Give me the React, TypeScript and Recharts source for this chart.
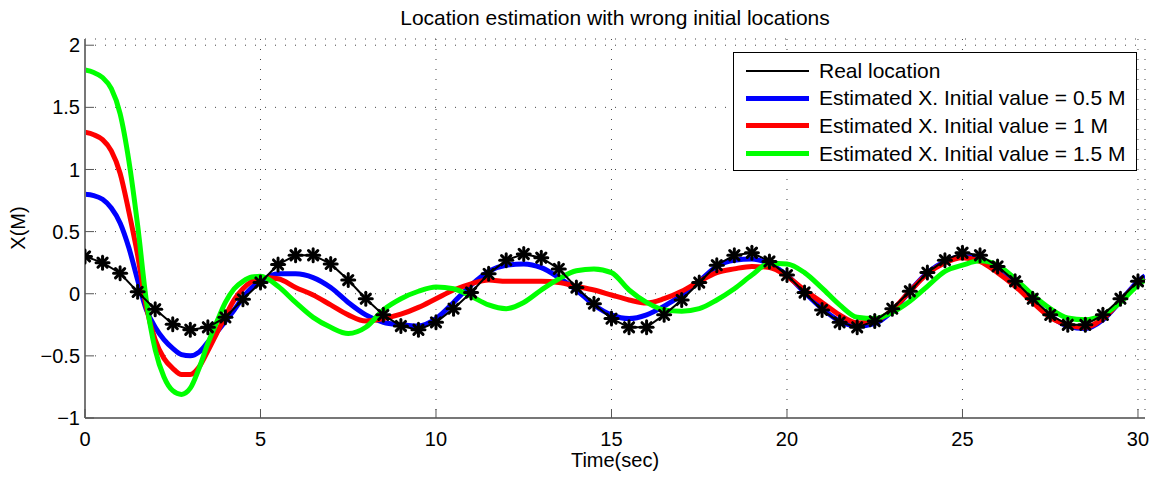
import React from 'react';
import { LineChart, Line, XAxis, YAxis, CartesianGrid, Legend } from 'recharts';

// time samples used for the three estimated curves (finer at the start where they move fast)
const estTime = [
    0, 0.25, 0.5, 0.75, 1, 1.25, 1.5, 1.75, 2, 2.25, 2.5, 2.75, 3, 3.25, 3.5, 3.75, 4, 4.25, 4.5, 4.75, 5,
    5.5, 6, 6.5, 7, 7.5, 8, 8.5, 9, 9.5, 10,
    10.5, 11, 11.5, 12, 12.5, 13, 13.5, 14, 14.5, 15,
    15.5, 16, 16.5, 17, 17.5, 18, 18.5, 19, 19.5, 20,
    20.5, 21, 21.5, 22, 22.5, 23, 23.5, 24, 24.5, 25,
    25.5, 26, 26.5, 27, 27.5, 28, 28.5, 29, 29.5, 30,
    30.2,
];

const estBlue = [
    0.80, 0.79, 0.76, 0.69, 0.57, 0.37, 0.11, -0.13, -0.27, -0.37, -0.44, -0.49, -0.50, -0.47, -0.39, -0.31, -0.22, -0.13, -0.03, 0.05, 0.10,
    0.16, 0.16, 0.13, 0.05, -0.07, -0.17, -0.23, -0.25, -0.26, -0.20,
    -0.07, 0.07, 0.18, 0.23, 0.24, 0.21, 0.13, 0.03, -0.09, -0.17,
    -0.20, -0.17, -0.10, -0.01, 0.10, 0.22, 0.27, 0.28, 0.24, 0.15,
    0.01, -0.12, -0.22, -0.26, -0.24, -0.14, 0.02, 0.17, 0.26, 0.30,
    0.27, 0.18, 0.07, -0.06, -0.18, -0.26, -0.28, -0.21, -0.06, 0.10,
    0.145,
];

const estRed = [
    1.30, 1.28, 1.24, 1.15, 0.97, 0.66, 0.31, -0.11, -0.37, -0.52, -0.60, -0.65, -0.65, -0.59, -0.46, -0.32, -0.18, -0.05, 0.04, 0.10, 0.13,
    0.12, 0.05, -0.01, -0.09, -0.17, -0.22, -0.20, -0.165, -0.11, -0.04,
    0.03, 0.08, 0.11, 0.10, 0.10, 0.10, 0.09, 0.06, 0.03, -0.01,
    -0.05, -0.075, -0.04, 0.02, 0.10, 0.17, 0.20, 0.22, 0.21, 0.14,
    0.03, -0.07, -0.17, -0.235, -0.22, -0.13, 0.02, 0.16, 0.25, 0.29,
    0.26, 0.17, 0.06, -0.07, -0.19, -0.25, -0.27, -0.20, -0.06, 0.08,
    0.11,
];

const estGreen = [
    1.80, 1.78, 1.74, 1.65, 1.45, 1.07, 0.55, -0.06, -0.45, -0.67, -0.78, -0.81, -0.76, -0.60, -0.40, -0.23, -0.07, 0.04, 0.10, 0.135, 0.14,
    0.06, -0.07, -0.19, -0.27, -0.32, -0.27, -0.13, -0.04, 0.02, 0.055,
    0.04, -0.02, -0.09, -0.12, -0.07, 0.03, 0.12, 0.185, 0.20, 0.17,
    0.03, -0.07, -0.13, -0.14, -0.12, -0.05, 0.04, 0.15, 0.245, 0.24,
    0.17, 0.045, -0.09, -0.19, -0.20, -0.15, -0.06, 0.06, 0.18, 0.23,
    0.265, 0.23, 0.12, -0.01, -0.12, -0.195, -0.21, -0.17, -0.07, 0.07,
    0.11,
];

// real location, sampled every 0.5 s (one marker per sample)
const realTime = [
    0, 0.5, 1, 1.5, 2, 2.5, 3, 3.5, 4, 4.5, 5, 5.5, 6, 6.5, 7, 7.5, 8, 8.5, 9, 9.5, 10,
    10.5, 11, 11.5, 12, 12.5, 13, 13.5, 14, 14.5, 15, 15.5, 16, 16.5, 17, 17.5, 18, 18.5, 19, 19.5, 20,
    20.5, 21, 21.5, 22, 22.5, 23, 23.5, 24, 24.5, 25, 25.5, 26, 26.5, 27, 27.5, 28, 28.5, 29, 29.5, 30,
];

const realX = [
    0.30, 0.25, 0.165, 0.015, -0.125, -0.245, -0.29, -0.27, -0.19, -0.045, 0.09, 0.235, 0.31, 0.31, 0.24, 0.11, -0.04, -0.17, -0.26, -0.29, -0.23,
    -0.12, 0.01, 0.16, 0.27, 0.32, 0.29, 0.20, 0.05, -0.08, -0.20, -0.27, -0.27, -0.17, -0.05, 0.09, 0.23, 0.31, 0.33, 0.26, 0.15,
    0.01, -0.13, -0.23, -0.27, -0.22, -0.12, 0.02, 0.17, 0.27, 0.33, 0.31, 0.22, 0.10, -0.04, -0.17, -0.25, -0.25, -0.17, -0.04, 0.10,
];

const xTicks = [0, 5, 10, 15, 20, 25, 30];
const yTicks = [-1, -0.5, 0, 0.5, 1, 1.5, 2];

const seriesNames = [
    'Real location',
    'Estimated X. Initial value = 0.5 M',
    'Estimated X. Initial value = 1 M',
    'Estimated X. Initial value = 1.5 M',
];
const seriesColors = ['#000000', '#0000ff', '#ff0000', '#00ff00'];

const FONT = '"Liberation Sans", Arial, Helvetica, sans-serif';

const fmt = (v: number) => String(v).replace('-', '\u2212');

const blueData = estTime.map((t, i) => ({ t, x: estBlue[i] }));
const redData = estTime.map((t, i) => ({ t, x: estRed[i] }));
const greenData = estTime.map((t, i) => ({ t, x: estGreen[i] }));
const realData = realTime.map((t, i) => ({ t, x: realX[i] }));

const XTick = (props: any) => {
    const { x, y, payload } = props;
    const axisY = y - 14;
    return (
        <g>
            <line x1={x} x2={x} y1={axisY} y2={axisY - 9} stroke="#555" strokeWidth={1} />
            <text x={x} y={y} dy="0.71em" textAnchor="middle" fontSize={20} fill="#000" fontFamily={FONT}>
                {fmt(payload.value)}
            </text>
        </g>
    );
};

const YTick = (props: any) => {
    const { x, y, payload } = props;
    const axisX = x + 5;
    return (
        <g>
            <line x1={axisX} x2={axisX + 9} y1={y} y2={y} stroke="#555" strokeWidth={1} />
            <text x={x} y={y} dy="0.355em" textAnchor="end" fontSize={20} fill="#000" fontFamily={FONT}>
                {fmt(payload.value)}
            </text>
        </g>
    );
};

// MATLAB-style '*' marker
const renderStar = (props: any) => {
    const { cx, cy, index } = props;
    if (cx == null || cy == null) return <g key={`s-${index}`} />;
    const r = 6.5;
    const d = 4.6;
    return (
        <g key={`s-${index}`} stroke="#000" strokeWidth={3} strokeLinecap="round">
            <line x1={cx - r} x2={cx + r} y1={cy} y2={cy} />
            <line x1={cx} x2={cx} y1={cy - r} y2={cy + r} />
            <line x1={cx - d} x2={cx + d} y1={cy - d} y2={cy + d} />
            <line x1={cx - d} x2={cx + d} y1={cy + d} y2={cy - d} />
        </g>
    );
};

const LegendBox = () => (
    <div
        style={{
            width: 404,
            height: 119,
            boxSizing: 'border-box',
            border: '1.5px solid #000',
            background: '#fff',
            paddingTop: 4,
            fontFamily: FONT,
            fontSize: 21,
            color: '#000',
        }}
    >
        {seriesNames.map((name, i) => (
            <div key={name} style={{ height: 27.6, display: 'flex', alignItems: 'center', whiteSpace: 'nowrap' }}>
                <div
                    style={{
                        marginLeft: 12,
                        width: 63,
                        height: i === 0 ? 2 : 5,
                        background: seriesColors[i],
                    }}
                />
                <span style={{ marginLeft: 10 }}>{name}</span>
            </div>
        ))}
    </div>
);

const App: React.FC = () => {
    return (
        <div style={{ position: 'absolute', left: 0, top: 0, width: 1160, height: 477, background: '#fff', fontFamily: FONT }}>
            <div
                style={{
                    position: 'absolute',
                    left: 85,
                    width: 1060,
                    top: 7,
                    textAlign: 'center',
                    fontSize: 21,
                    lineHeight: '21px',
                    color: '#000',
                    zIndex: 2,
                }}
            >
                Location estimation with wrong initial locations
            </div>
            <LineChart width={1160} height={477} margin={{ top: 39, right: 15, bottom: 9, left: 25 }}>
                <CartesianGrid stroke="#444" strokeDasharray="1 9" strokeWidth={1} />
                <XAxis
                    type="number"
                    dataKey="t"
                    domain={[0, 30.2]}
                    ticks={xTicks}
                    interval={0}
                    allowDataOverflow
                    height={50}
                    tickSize={10}
                    tickMargin={4}
                    tickLine={false}
                    tick={<XTick />}
                    axisLine={{ stroke: '#777', strokeWidth: 2 }}
                    label={{
                        value: 'Time(sec)',
                        position: 'insideBottom',
                        offset: 1,
                        fontSize: 20,
                        fill: '#000',
                        fontFamily: FONT,
                    }}
                />
                <YAxis
                    type="number"
                    dataKey="x"
                    domain={[-1, 2.05]}
                    ticks={yTicks}
                    interval={0}
                    allowDataOverflow
                    width={60}
                    tickSize={3}
                    tickMargin={2}
                    tickLine={false}
                    tick={<YTick />}
                    axisLine={{ stroke: '#777', strokeWidth: 2 }}
                    label={{
                        content: () => (
                            <text
                                x={25}
                                y={228}
                                transform="rotate(-90 25 228)"
                                textAnchor="middle"
                                fontSize={20}
                                fill="#000"
                                fontFamily={FONT}
                            >
                                X(M)
                            </text>
                        ),
                    }}
                />
                <Legend
                    layout="horizontal"
                    align="center"
                    verticalAlign="middle"
                    content={<LegendBox />}
                    wrapperStyle={{ left: 733, top: 52, width: 404, height: 119 }}
                />
                <Line data={blueData} dataKey="x" name={seriesNames[1]} type="monotone" stroke="#0000ff" strokeWidth={5} dot={false} isAnimationActive={false} strokeLinejoin="round" />
                <Line data={redData} dataKey="x" name={seriesNames[2]} type="monotone" stroke="#ff0000" strokeWidth={5} dot={false} isAnimationActive={false} strokeLinejoin="round" />
                <Line data={greenData} dataKey="x" name={seriesNames[3]} type="monotone" stroke="#00ff00" strokeWidth={5} dot={false} isAnimationActive={false} strokeLinejoin="round" />
                <Line data={realData} dataKey="x" name={seriesNames[0]} type="linear" stroke="#000" strokeWidth={2} dot={renderStar} activeDot={false} isAnimationActive={false} />
            </LineChart>
        </div>
    );
};

export default App;
